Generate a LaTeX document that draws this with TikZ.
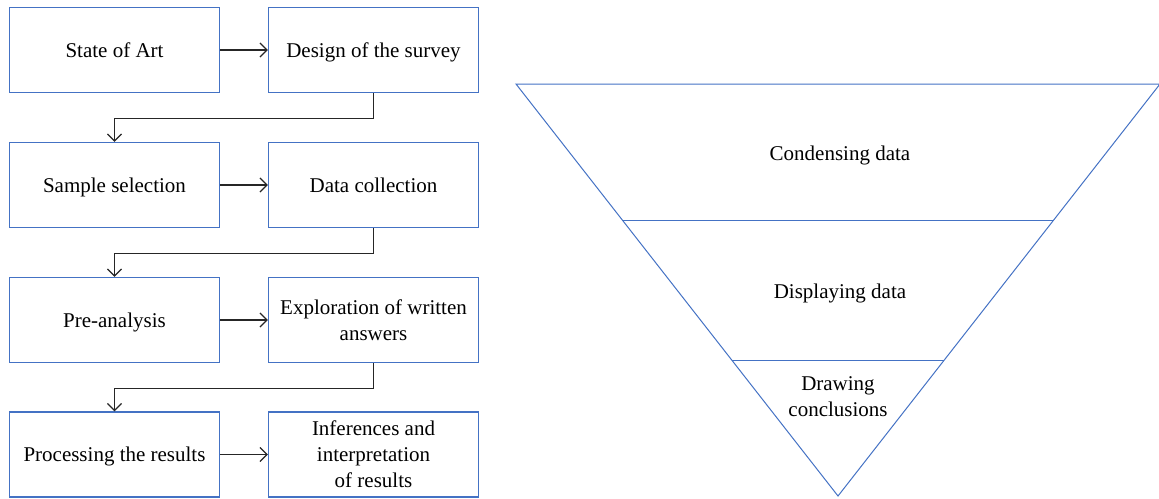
\documentclass[tikz,border=0pt]{standalone}
\usepackage{fontspec}
\setmainfont{Liberation Serif}
\usetikzlibrary{arrows.meta,calc}
\definecolor{boxblue}{RGB}{68,114,196}
\begin{document}
\begin{tikzpicture}[x=1pt,y=-1pt,
  stepbox/.style={draw=boxblue,line width=1.4pt,minimum width=210pt,minimum height=85pt,inner sep=2pt,align=center,font=\fontsize{21}{26}\selectfont},
  oneline/.style={text height=16pt,text depth=2pt},
  conn/.style={draw=black!85,line width=1.2pt,-{Straight Barb[length=7pt,width=14pt,line width=1.2pt]}},
  tri/.style={draw=boxblue,line width=1pt},
  lbl/.style={align=center,font=\fontsize{21}{26}\selectfont}]
\useasboundingbox (0,0) rectangle (1159,498);
% left flow
\node[stepbox,oneline] (a1) at (114.5,50) {State of Art};
\node[stepbox,oneline] (b1) at (373.5,50) {Design of the survey};
\node[stepbox,oneline] (a2) at (114.5,185) {Sample selection};
\node[stepbox,oneline] (b2) at (373.5,185) {Data collection};
\node[stepbox,oneline] (a3) at (114.5,320) {Pre-analysis};
\node[stepbox] (b3) at (373.5,320) {Exploration of written\\answers};
\node[stepbox,oneline] (a4) at (114.5,454.5) {Processing the results};
\node[stepbox] (b4) at (373.5,454.5) {Inferences and\\interpretation\\of results};
\draw[conn] (a1) -- (b1);
\draw[conn] (a2) -- (b2);
\draw[conn] (a3) -- (b3);
\draw[conn] (a4) -- (b4);
\draw[conn] (b1.south) -- ++(0,25) -| (a2.north);
\draw[conn] (b2.south) -- ++(0,25) -| (a3.north);
\draw[conn] (b3.south) -- ++(0,25) -| (a4.north);
% funnel
\coordinate (tl) at (516,84);
\coordinate (tr) at (1160,84);
\coordinate (ap) at (838,496);
\draw[tri] (tl) -- (tr) -- (ap) -- cycle;
\draw[tri] ($(tl)!0.3325!(ap)$) -- ($(tr)!0.3325!(ap)$);
\draw[tri] ($(tl)!0.6723!(ap)$) -- ($(tr)!0.6723!(ap)$);
\node[lbl,oneline] (c1) at (840,153) {Condensing data};
\node[lbl,oneline] (c2) at (840,291) {Displaying data};
\node[lbl] (c3) at (838,397) {Drawing\\conclusions};
\end{tikzpicture}
\end{document}
